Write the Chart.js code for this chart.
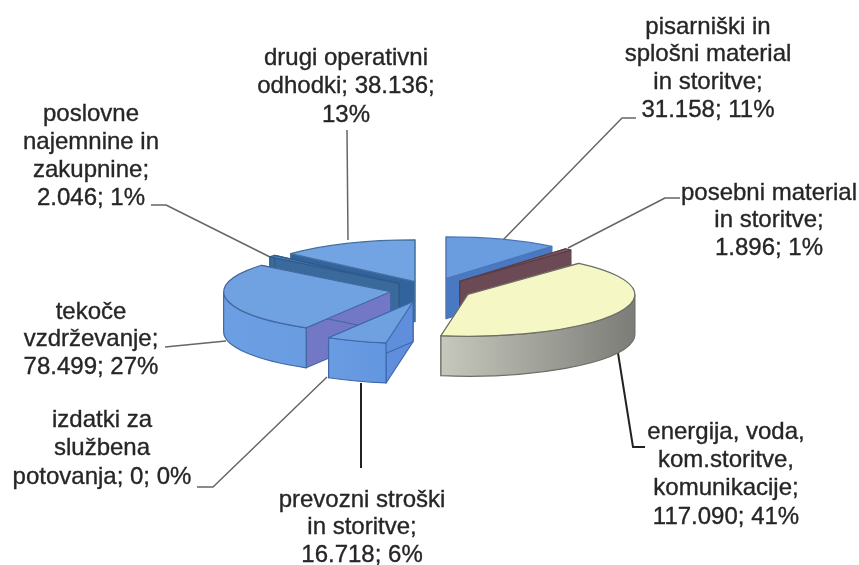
<!DOCTYPE html>
<html><head><meta charset="utf-8">
<style>html,body{margin:0;padding:0;background:#fff}canvas{display:block}</style>
<script src="https://cdn.jsdelivr.net/npm/chart.js@4/dist/chart.umd.js"></script>
</head><body><canvas id="c" width="859" height="565"></canvas>
<script>
const categories = ["pisarniški in splošni material in storitve","posebni material in storitve","energija, voda, kom.storitve, komunikacije","prevozni stroški in storitve","izdatki za službena potovanja","tekoče vzdrževanje","poslovne najemnine in zakupnine","drugi operativni odhodki"];
const values = [31158,1896,117090,16718,0,78499,2046,38136];
const labelLines = [
 ["pisarniški in","splošni material","in storitve;","31.158; 11%"],
 ["posebni material","in storitve;","1.896; 1%"],
 ["energija, voda,","kom.storitve,","komunikacije;","117.090; 41%"],
 ["prevozni stroški","in storitve;","16.718; 6%"],
 ["izdatki za","službena","potovanja; 0; 0%"],
 ["tekoče","vzdrževanje;","78.499; 27%"],
 ["poslovne","najemnine in","zakupnine;","2.046; 1%"],
 ["drugi operativni","odhodki; 38.136;","13%"]
];
const topColors = ["#6a9de0","#8a5a62","#f5f7c4","#6fa1e0","#6fa1e0","#70a2e2","#4a7fc0","#72a3e2"];
const cutColors = ["#4a79c4","#6b4a55","#c4c6ba","#5f8fdc","#5f8fdc","#7278c6","#3a6a9c","#33639c"];
const wallLight = ["#5f8fd8","#6b4a55","#c6c8bc","#6a9ce2","#6a9ce2","#6c9ee4","#3f72ac","#3f72ac"];
const wallDark  = ["#5f8fd8","#6b4a55","#7c7c78","#6296de","#6296de","#6a9ce2","#3f72ac","#3f72ac"];
const edgeColors = ["#4a76b8","#5a3f48","#6e6e68","#3f68ac","#3f68ac","#44689f","#2f5a8c","#44709f"];
const explode = [48,46,42,50,45,40,41,37];
const labelPlace = [[708,27,27.8],[769,193,27.5],[726,432,28.4],[362,500,27.5],[102,420,28.5],[91,312,27.5],[91,114,28],[346,58,28.5]];
const leaders = [
 [[503,240],[622,118],[636,118]],
 [[568,248],[665,198],[680,198]],
 [[618,353],[633,447],[645,447]],
 [[361,383],[361,468]],
 [[327,377],[213,487],[197,487]],
 [[226,341],[165,347]],
 [[272,258],[166,205],[151,205]],
 [[348,240],[347,130]]
];
const squash = 0.25, depth = 40;

const pie3d = {
  id:'pie3d',
  beforeDatasetsDraw(chart){
    const ctx = chart.ctx, arcs = chart.getDatasetMeta(0).data;
    const order = arcs.map((a,i)=>i).filter(i=>arcs[i].circumference>0)
      .sort((p,q)=>Math.sin((arcs[p].startAngle+arcs[p].endAngle)/2)-Math.sin((arcs[q].startAngle+arcs[q].endAngle)/2));
    ctx.save();
    ctx.lineJoin='round';
    leaders.forEach((l,i)=>{ ctx.lineWidth = i===2||i===3 ? 2 : 1.5; ctx.strokeStyle = i===2||i===3 ? '#222':'#666';
      ctx.beginPath(); l.forEach((p,j)=> j?ctx.lineTo(p[0],p[1]):ctx.moveTo(p[0],p[1])); ctx.stroke(); });
    ctx.lineWidth = 1.2;
    order.forEach(i=>{
      const a = arcs[i], s=a.startAngle, e=a.endAngle, r=a.outerRadius, ry=r*squash, mid=(s+e)/2;
      const d = explode[i], ax=a.x+Math.cos(mid)*d, ay=a.y+Math.sin(mid)*d*squash;
      const pt = t=>[ax+Math.cos(t)*r, ay+Math.sin(t)*ry];
      ctx.strokeStyle = edgeColors[i];
      [s,e].forEach(t=>{
        const p=pt(t);
        ctx.fillStyle = cutColors[i];
        ctx.beginPath(); ctx.moveTo(ax,ay); ctx.lineTo(p[0],p[1]); ctx.lineTo(p[0],p[1]+depth); ctx.lineTo(ax,ay+depth); ctx.closePath();
        ctx.fill(); ctx.stroke();
      });
      const w0=Math.max(s,0), w1=Math.min(e,Math.PI);
      if(w1>w0){
        const g=ctx.createLinearGradient(pt(w1)[0],0,pt(w0)[0],0);
        g.addColorStop(0,wallLight[i]); g.addColorStop(1,wallDark[i]);
        ctx.fillStyle=g;
        ctx.beginPath(); ctx.ellipse(ax,ay,r,ry,0,w0,w1);
        ctx.ellipse(ax,ay+depth,r,ry,0,w1,w0,true); ctx.closePath();
        ctx.fill(); ctx.stroke();
      }
      ctx.fillStyle = a.options.backgroundColor;
      ctx.beginPath(); ctx.moveTo(ax,ay); ctx.ellipse(ax,ay,r,ry,0,s,e); ctx.closePath();
      ctx.fill(); ctx.stroke();
    });
    ctx.restore();
    return false;
  },
  afterDraw(chart){
    const ctx = chart.ctx;
    ctx.save();
    ctx.font = '24px "Liberation Sans", Arial, sans-serif';
    ctx.fillStyle='#262626'; ctx.strokeStyle='#262626'; ctx.lineWidth=0.35;
    ctx.textAlign='center'; ctx.textBaseline='middle';
    labelLines.forEach((lines,i)=>{
      const [x,y,lh]=labelPlace[i];
      lines.forEach((t,j)=>{ctx.fillText(t,x,y+j*lh);ctx.strokeText(t,x,y+j*lh);});
    });
    ctx.restore();
  }
};

new Chart(document.getElementById('c'),{
  type:'pie',
  data:{labels:categories,datasets:[{data:values,backgroundColor:topColors,borderWidth:0}]},
  options:{
    responsive:false,animation:false,radius:167,
    layout:{padding:{top:15,left:1}},
    plugins:{legend:{display:false},tooltip:{enabled:false}}
  },
  plugins:[pie3d]
});
</script></body></html>
